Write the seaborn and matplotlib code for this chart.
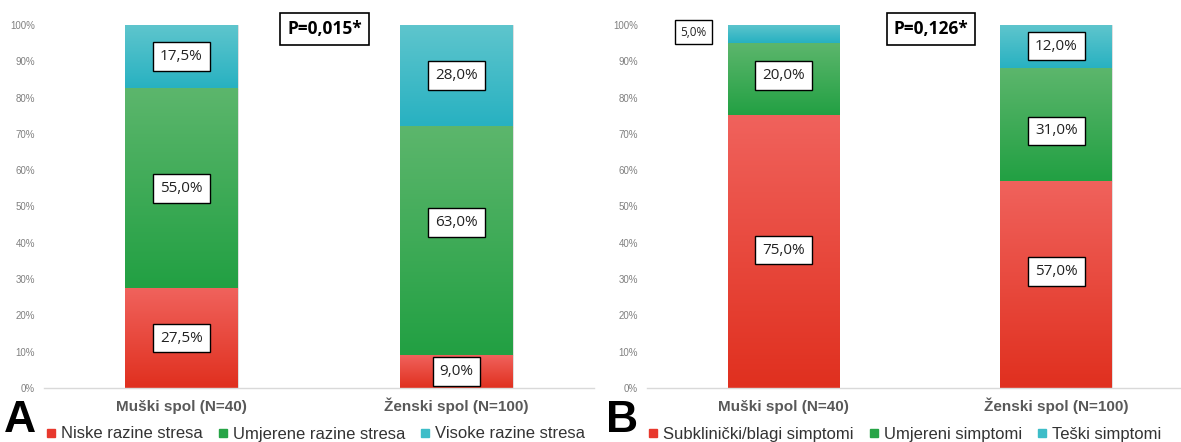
import numpy as np
import pandas as pd
import matplotlib
matplotlib.use("Agg")
import matplotlib.pyplot as plt
import seaborn as sns
from matplotlib.colors import LinearSegmentedColormap
from matplotlib.lines import Line2D
import matplotlib.transforms as mtransforms

# data
categories = ["Muški spol (N=40)", "Ženski spol (N=100)"]

stress_names = ["Niske razine stresa", "Umjerene razine stresa", "Visoke razine stresa"]
stress_low = [27.5, 9.0]
stress_mid = [55.0, 63.0]
stress_high = [17.5, 28.0]
stress_p = "P=0,015*"

sympt_names = ["Subklinički/blagi simptomi", "Umjereni simptomi", "Teški simptomi"]
sympt_mild = [75.0, 57.0]
sympt_mod = [20.0, 31.0]
sympt_sev = [5.0, 12.0]
sympt_p = "P=0,126*"

y_ticks = list(range(0, 101, 10))

# (top colour, bottom colour) for the gradient fill
grads = [("#f0625c", "#e0301f"), ("#5cb66c", "#22a043"), ("#5ec5cd", "#27b1c1")]
legend_cols = ["#e8382d", "#26a446", "#3dbdc8"]

sns.set_theme(style="white")
plt.rcParams["font.family"] = ["Liberation Sans", "DejaVu Sans"]

fig = plt.figure(figsize=(11.81, 4.42), dpi=100)
axA = fig.add_axes([44 / 1181, 1 - 388 / 442, 550 / 1181, 363 / 442])
axB = fig.add_axes([647 / 1181, 1 - 388 / 442, 535 / 1181, 363 / 442])


def gradient_fill(ax, patches, top, bottom):
    cmap = LinearSegmentedColormap.from_list("g", [bottom, top])
    grad = np.linspace(0, 1, 100).reshape(-1, 1)
    for p in patches:
        x, y = p.get_x(), p.get_y()
        w, h = p.get_width(), p.get_height()
        if h <= 0:
            continue
        ax.imshow(grad, extent=[x, x + w, y, y + h], origin="lower",
                  cmap=cmap, aspect="auto", zorder=2)
        p.set_facecolor("none")
        p.set_edgecolor("#d9d9d9")
        p.set_linewidth(0.6)


def stacked(ax, low, mid, high, names, pval, xlim, p_x, label_pos, small, letter, leg_x):
    df = pd.DataFrame({"cat": categories, "low": low, "mid": mid, "high": high})
    df["c2"] = df["low"] + df["mid"]
    df["c3"] = df["c2"] + df["high"]
    layers = [("c3", 2), ("c2", 1), ("low", 0)]
    for col, gi in layers:
        n0 = len(ax.patches)
        sns.barplot(data=df, x="cat", y=col, ax=ax, width=0.41, color=legend_cols[gi],
                    errorbar=None, saturation=1)
        new = ax.patches[n0:]
        # trim each bar down to its own segment
        for i, p in enumerate(new):
            if col == "c3":
                p.set_y(df["c2"][i]); p.set_height(df["high"][i])
            elif col == "c2":
                p.set_y(df["low"][i]); p.set_height(df["mid"][i])
        gradient_fill(ax, new, *grads[gi])

    ax.set_xlim(*xlim)
    ax.set_ylim(0, 100)
    ax.set_yticks(y_ticks)
    ax.set_yticklabels([f"{t}%" for t in y_ticks], fontsize=7, color="#808080")
    ax.tick_params(axis="y", length=0, pad=6.5)
    ax.set_xticks(range(len(categories)))
    ax.set_xticklabels([])
    ax.tick_params(axis="x", length=0)
    trans = mtransforms.blended_transform_factory(ax.transData, ax.transAxes)
    for i, c in enumerate(categories):
        ax.text(i, -0.064, c, transform=trans, ha="center", va="baseline", fontsize=11,
                fontweight="bold", color="#595959")
    ax.set_xlabel("")
    ax.set_ylabel("")
    for s in ["top", "right", "left"]:
        ax.spines[s].set_visible(False)
    ax.spines["bottom"].set_color("#d9d9d9")
    ax.spines["bottom"].set_linewidth(1)

    box = dict(boxstyle="square,pad=0.45", fc="white", ec="black", lw=1)
    for i in range(len(categories)):
        segs = [(low[i], low[i] / 2), (mid[i], low[i] + mid[i] / 2),
                (high[i], low[i] + mid[i] + high[i] / 2)]
        for j, (v, yc) in enumerate(segs):
            xy = label_pos.get((i, j), (i, yc))
            fs = 8.5 if (i, j) in small else 11
            ax.text(xy[0], xy[1], f"{v:.1f}%".replace(".", ","), ha="center", va="center",
                    fontsize=fs, family=["Open Sans", "DejaVu Sans"], color="#222222",
                    bbox=box, zorder=5)

    ax.text(p_x, 99, pval, ha="center", va="center", fontsize=12.5, fontweight="bold",
            family=["Open Sans", "DejaVu Sans"], color="black",
            bbox=dict(boxstyle="square,pad=0.4", fc="white", ec="black", lw=1.2), zorder=5)

    handles = [Line2D([], [], marker="s", ls="", color=legend_cols[k], markersize=6)
               for k in range(3)]
    fig.legend(handles, names, loc="center left", bbox_to_anchor=(leg_x / 1181, 1 - 434 / 442),
               bbox_transform=fig.transFigure, ncol=3, frameon=False, fontsize=12,
               handlelength=0.6, handletextpad=0.3, columnspacing=0.9,
               borderaxespad=0, borderpad=0, labelcolor="#333333")
    fig.text((leg_x - 42) / 1181, 1 / 442, letter, fontsize=32, fontweight="bold",
             color="black", ha="left", va="bottom")


stacked(axA, stress_low, stress_mid, stress_high, stress_names, stress_p,
        (-0.5, 1.5), 0.52, {(1, 1): (1, 45.5)}, set(), "A", 46)
stacked(axB, sympt_mild, sympt_mod, sympt_sev, sympt_names, sympt_p,
        (-0.5, 1.46), 0.54,
        {(0, 2): (-0.33, 98), (0, 1): (0, 86), (0, 0): (0, 38),
         (1, 2): (1, 94.2), (1, 1): (1, 70.8), (1, 0): (1, 32)},
        {(0, 2)}, "B", 648)

fig.savefig("out.png", dpi=100)
